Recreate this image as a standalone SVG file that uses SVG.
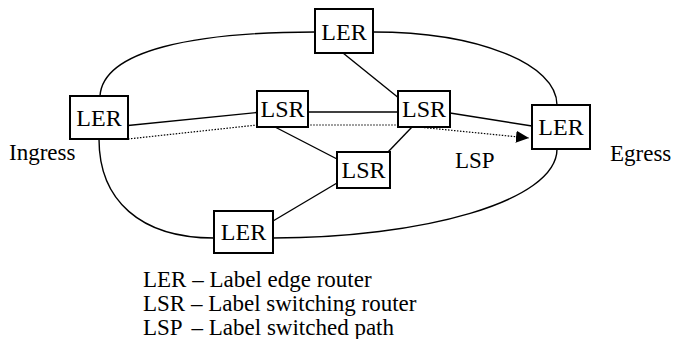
<svg xmlns="http://www.w3.org/2000/svg" width="676" height="339" viewBox="0 0 676 339">
<style>
.box{fill:#fff;stroke:#000;stroke-width:2}
.ln{fill:none;stroke:#000;stroke-width:1.4}
.dot{fill:none;stroke:#000;stroke-width:1.2;stroke-dasharray:1.5 1.5}
.serif{font-family:"Liberation Serif","Times New Roman",Times,serif;fill:#000}
</style>
<defs>
<marker id="arr" markerUnits="userSpaceOnUse" markerWidth="14" markerHeight="12" refX="13" refY="6" orient="auto">
<path d="M0,0 L13,6 L0,12 z" fill="#000"/>
</marker>
</defs>
<rect width="676" height="339" fill="#fff"/>
<g id="connectors">
<path class="ln" d="M100,96 C103,50 195,32 315,32"/>
<path class="ln" d="M373,32 C478,32 557,64 557,105"/>
<path class="ln" d="M99,139 C99,200 140,238 214,238"/>
<path class="ln" d="M273,238 C420,238 557,202 557,149"/>
<path class="ln" d="M128,125.5 L257,112.5"/>
<path class="ln" d="M308,112 L398,112"/>
<path class="ln" d="M450,113 L532,126"/>
<path class="ln" d="M343,53 L400,99"/>
<path class="ln" d="M275,127 L337,159"/>
<path class="ln" d="M412,127 L388,152"/>
<path class="ln" d="M273,221 L337,183"/>
<path class="dot" d="M128,139 L257,125 L398,125 L529,138" marker-end="url(#arr)"/>
</g>
<g class="serif" font-size="24" text-anchor="middle">
<g id="ler-ingress"><rect class="box" x="70" y="96" width="58" height="43"/><text x="99" y="126">LER</text></g>
<g id="ler-top"><rect class="box" x="315" y="9" width="58" height="44"/><text x="344" y="40">LER</text></g>
<g id="lsr-left"><rect class="box" x="257" y="91" width="51" height="36"/><text x="282.5" y="117">LSR</text></g>
<g id="lsr-right"><rect class="box" x="398" y="91" width="52" height="36"/><text x="424" y="117">LSR</text></g>
<g id="lsr-mid"><rect class="box" x="337" y="152" width="53" height="36"/><text x="363.5" y="178">LSR</text></g>
<g id="ler-egress"><rect class="box" x="532" y="105" width="58" height="44"/><text x="561" y="135">LER</text></g>
<g id="ler-bottom"><rect class="box" x="214" y="211" width="59" height="42"/><text x="243.5" y="240">LER</text></g>
</g>
<g id="labels" class="serif" font-size="23">
<text x="9" y="160">Ingress</text>
<text x="610" y="161">Egress</text>
<text x="455" y="168">LSP</text>
</g>
<g id="legend" class="serif" font-size="23">
<text x="143" y="287">LER – Label edge router</text>
<text x="143" y="311">LSR – Label switching router</text>
<text x="143" y="335">LSP <tspan dx="4">– Label switched path</tspan></text>
</g>
</svg>
